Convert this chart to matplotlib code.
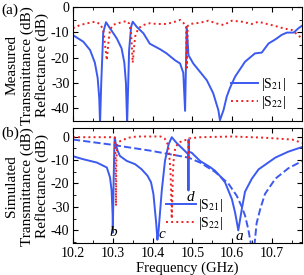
import matplotlib
matplotlib.use("Agg")
import matplotlib.pyplot as plt
from matplotlib.ticker import MultipleLocator

plt.rcParams['font.family'] = ['Liberation Serif', 'DejaVu Serif']
plt.rcParams['mathtext.fontset'] = 'stix'
plt.rcParams['axes.unicode_minus'] = False

BLUE = '#3c5af0'
RED = '#ee2020'

# measured (a)
meas_s21_f = [10.200, 10.226, 10.243, 10.255, 10.262, 10.266, 10.268, 10.271, 10.276,
              10.283, 10.293, 10.310, 10.322, 10.329, 10.333, 10.336, 10.341, 10.346,
              10.350, 10.360, 10.377, 10.393, 10.419, 10.435, 10.456, 10.469, 10.477,
              10.4815, 10.4855, 10.490, 10.502, 10.519, 10.536, 10.552, 10.565, 10.569,
              10.578, 10.586, 10.594, 10.607, 10.632, 10.657, 10.674, 10.691, 10.708,
              10.724, 10.737, 10.754, 10.766, 10.775]
meas_s21_db = [-11.1, -13.7, -17.0, -22.0, -28.0, -36.0, -46.0, -30.0, -10.0,
               -6.0, -8.4, -12.4, -16.3, -22.0, -30.0, -46.0, -17.0, -7.8,
               -5.8, -7.8, -10.4, -14.5, -16.7, -18.3, -21.0, -22.3, -26.0,
               -41.0, -7.8, -19.0, -22.3, -25.6, -28.9, -34.0, -40.7, -44.7,
               -40.7, -35.4, -32.0, -27.5, -21.6, -18.3, -18.0, -14.4, -12.8,
               -11.0, -10.1, -10.1, -8.4, -7.4]
meas_s22_f = [10.200, 10.218, 10.234, 10.255, 10.268, 10.276, 10.280, 10.285, 10.289,
              10.293, 10.301, 10.318, 10.335, 10.341, 10.346, 10.350, 10.356, 10.364,
              10.377, 10.393, 10.410, 10.435, 10.456, 10.469, 10.477, 10.484, 10.486,
              10.488, 10.494, 10.519, 10.540, 10.561, 10.578, 10.599, 10.624, 10.649,
              10.666, 10.682, 10.708, 10.728, 10.750, 10.775]
meas_s22_db = [-8.4, -7.1, -6.5, -5.8, -6.7, -9.0, -14.3, -21.0, -14.0,
               -9.0, -7.0, -6.2, -5.5, -6.5, -10.4, -22.0, -11.7, -8.4,
               -7.1, -6.4, -6.7, -6.7, -5.8, -5.1, -6.2, -7.5, -24.0,
               -7.5, -6.7, -6.2, -5.4, -6.5, -7.1, -5.4, -5.8, -6.7,
               -5.8, -6.5, -7.5, -8.4, -9.1, -12.4]

# simulated (b)
sim_s21_f = [10.200, 10.226, 10.260, 10.285, 10.293, 10.297, 10.2995, 10.300, 10.302,
             10.304, 10.305, 10.308, 10.312, 10.318, 10.335, 10.356, 10.372, 10.387,
             10.396, 10.402, 10.409, 10.412, 10.415, 10.417, 10.423, 10.431, 10.440,
             10.448, 10.460, 10.477, 10.4895, 10.4900, 10.4905, 10.491, 10.498, 10.519,
             10.544, 10.556, 10.570, 10.582, 10.599, 10.607, 10.612, 10.615, 10.619,
             10.624, 10.632, 10.649, 10.666, 10.708, 10.740, 10.775]
sim_s21_db = [-8.4, -9.7, -11.1, -13.2, -17.4, -23.0, -33.0, -41.0, -20.0,
              -3.0, -0.5, -3.5, -6.0, -8.3, -10.4, -11.8, -13.9, -16.7,
              -19.5, -24.5, -37.0, -44.0, -40.0, -35.7, -23.0, -10.4, -3.4,
              -0.3, -2.7, -5.5, -7.6, -23.0, -1.3, -6.5, -6.9, -10.4,
              -13.0, -14.5, -17.0, -19.6, -26.7, -32.4, -37.0, -40.0, -36.0,
              -30.8, -23.5, -18.0, -14.0, -9.0, -6.5, -4.5]
sim_s21b_f = [10.200, 10.293, 10.393, 10.490, 10.519, 10.556, 10.590, 10.611, 10.624,
              10.632, 10.640, 10.647, 10.652, 10.657, 10.661, 10.670, 10.682, 10.708,
              10.741, 10.775]
sim_s21b_db = [-1.3, -3.4, -6.0, -9.0, -11.1, -15.0, -20.0, -25.2, -30.0,
               -33.7, -39.4, -46.0, -52.0, -44.0, -37.0, -31.0, -24.5, -18.0,
               -13.5, -10.5]
sim_s22_f = [10.200, 10.305, 10.307, 10.308, 10.309, 10.311, 10.313, 10.320, 10.340,
             10.360, 10.420, 10.430, 10.437, 10.441, 10.445, 10.448, 10.451, 10.454,
             10.458, 10.465, 10.477, 10.4895, 10.4905, 10.4915, 10.520, 10.600, 10.680,
             10.750, 10.775]
sim_s22_db = [-0.3, -0.3, -10.0, -29.5, -10.0, -3.5, -2.7, -1.8, -0.5,
              0.0, 0.0, -0.8, -3.0, -6.0, -15.0, -35.0, -15.0, -7.0,
              -4.5, -2.7, -1.7, -1.3, -9.0, -0.8, -0.3, 0.0, -0.5,
              -1.3, -2.7]

mode_labels = ['b', 'c', 'd', 'a']
mode_f = [10.3005, 10.4236, 10.494, 10.617]
mode_db = [-40.9, -41.8, -25.9, -42.6]

fig = plt.figure(figsize=(3.04, 2.75), dpi=100)
ax1 = fig.add_axes([0.240, 0.560, 0.7534, 0.4145])
ax2 = fig.add_axes([0.240, 0.1153, 0.7534, 0.4182])

ax1.plot(meas_s21_f, meas_s21_db, color=BLUE, lw=1.4, label='|S$_{21}$|')
ax1.plot(meas_s22_f, meas_s22_db, color=RED, lw=1.4, ls=':', label='|S$_{22}$|')
ax1.set_ylim(-45, 0)

ax2.plot(sim_s21_f, sim_s21_db, color=BLUE, lw=1.4, label='|S$_{21}$|')
ax2.plot(sim_s21b_f, sim_s21b_db, color=BLUE, lw=1.4, ls='--')
ax2.plot(sim_s22_f, sim_s22_db, color=RED, lw=1.4, ls=':', label='|S$_{22}$|')
ax2.set_ylim(-45.5, 3.5)
for t, f, d in zip(mode_labels, mode_f, mode_db):
    ax2.text(f, d, t, fontsize=11, style='italic', ha='center', va='center')

for ax in (ax1, ax2):
    ax.set_xlim(10.2, 10.775)
    ax.xaxis.set_major_locator(MultipleLocator(0.1))
    ax.xaxis.set_minor_locator(MultipleLocator(0.05))
    ax.yaxis.set_major_locator(MultipleLocator(10))
    ax.yaxis.set_minor_locator(MultipleLocator(5))
    ax.tick_params(which='both', direction='in', top=True, right=True, labelsize=10, pad=2.5)
    ax.tick_params(which='major', length=3.5)
    ax.tick_params(which='minor', length=2.5)
ax1.tick_params(labelbottom=False)

ax1.legend(loc='lower right', bbox_to_anchor=(0.96, 0.03), frameon=False, fontsize=10,
           borderpad=0, handlelength=1.95, handletextpad=0.2, labelspacing=0.05)
ax2.legend(loc='lower right', bbox_to_anchor=(0.686, 0.04), frameon=False, fontsize=10,
           borderpad=0, handlelength=2.1, handletextpad=0.2, labelspacing=0.05)

ax2.set_xlabel('Frequency (GHz)', fontsize=10.5, labelpad=1)

# stacked y labels, one text per line
label_x = [12 / 304, 27.5 / 304, 42.5 / 304]
for yc, first in ((0.762, 'Measured'), (0.322, 'Simulated')):
    for x, s in zip(label_x, [first, 'Transmittance (dB)', 'Reflectance (dB)']):
        fig.text(x, yc, s, rotation=90, ha='center', va='center', fontsize=11)
fig.text(0.005, 0.962, '(a)', fontsize=11, va='center')
fig.text(0.005, 0.515, '(b)', fontsize=11, va='center')

fig.savefig('out.png', dpi=100)
